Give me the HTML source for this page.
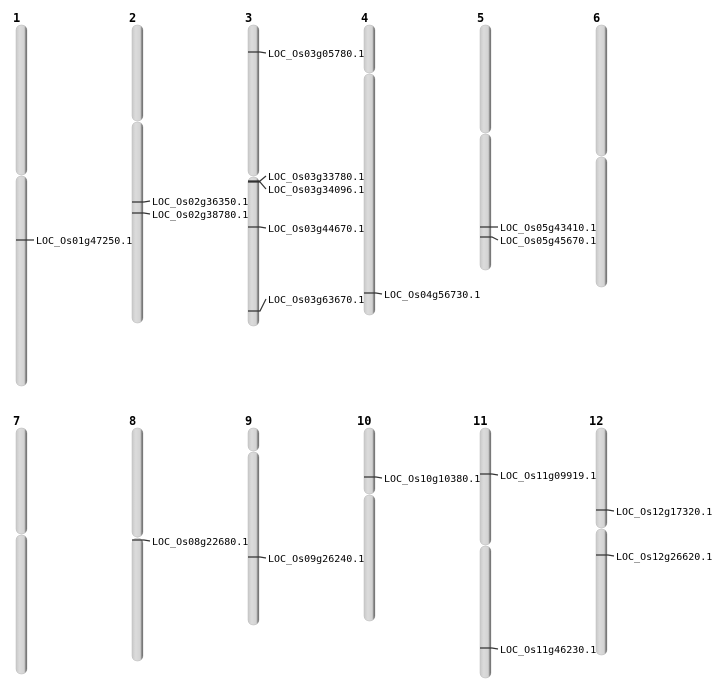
<!DOCTYPE html>
<html><head><meta charset="utf-8"><style>
html,body{margin:0;padding:0;background:#fff}
svg{display:block}
text{font-family:"DejaVu Sans Mono","Liberation Mono",monospace;font-size:10px;fill:#000}
.n{font-weight:bold;font-size:12px}
.c{fill:url(#g);stroke:#bbb;stroke-width:0.5}
.m{stroke:#333;stroke-width:1.2;fill:none}
</style></head><body>
<svg width="712" height="700" viewBox="0 0 712 700" xmlns="http://www.w3.org/2000/svg">
<defs><linearGradient id="g" x1="0" x2="1" y1="0" y2="0">
<stop offset="0" stop-color="#c9c9c9"/><stop offset="0.35" stop-color="#dcdcdc"/><stop offset="0.75" stop-color="#d2d2d2"/><stop offset="0.85" stop-color="#9a9a9a"/><stop offset="1" stop-color="#444"/></linearGradient></defs>
<g class="n">
<text class="n" x="13" y="22">1</text><text class="n" x="129" y="22">2</text><text class="n" x="245" y="22">3</text><text class="n" x="361" y="22">4</text><text class="n" x="477" y="22">5</text><text class="n" x="593" y="22">6</text>
<text class="n" x="13" y="425">7</text><text class="n" x="129" y="425">8</text><text class="n" x="245" y="425">9</text><text class="n" x="357" y="425">10</text><text class="n" x="473" y="425">11</text><text class="n" x="589" y="425">12</text>
</g>
<!-- chromosomes -->
<rect class="c" x="16" y="25" width="11" height="150" rx="5"/><rect class="c" x="16" y="176" width="11" height="210" rx="5"/>
<rect class="c" x="132" y="25" width="11" height="96" rx="5"/><rect class="c" x="132" y="122" width="11" height="201" rx="5"/>
<rect class="c" x="248" y="25" width="11" height="151" rx="5"/><rect class="c" x="248" y="177" width="11" height="149" rx="5"/>
<rect class="c" x="364" y="25" width="11" height="48" rx="5"/><rect class="c" x="364" y="74" width="11" height="241" rx="5"/>
<rect class="c" x="480" y="25" width="11" height="108" rx="5"/><rect class="c" x="480" y="134" width="11" height="136" rx="5"/>
<rect class="c" x="596" y="25" width="11" height="131" rx="5"/><rect class="c" x="596" y="157" width="11" height="130" rx="5"/>
<rect class="c" x="16" y="428" width="11" height="106" rx="5"/><rect class="c" x="16" y="535" width="11" height="139" rx="5"/>
<rect class="c" x="132" y="428" width="11" height="109" rx="5"/><rect class="c" x="132" y="538" width="11" height="123" rx="5"/>
<rect class="c" x="248" y="428" width="11" height="23" rx="5"/><rect class="c" x="248" y="452" width="11" height="173" rx="5"/>
<rect class="c" x="364" y="428" width="11" height="66" rx="5"/><rect class="c" x="364" y="495" width="11" height="126" rx="5"/>
<rect class="c" x="480" y="428" width="11" height="117" rx="5"/><rect class="c" x="480" y="546" width="11" height="132" rx="5"/>
<rect class="c" x="596" y="428" width="11" height="100" rx="5"/><rect class="c" x="596" y="529" width="11" height="126" rx="5"/>
<!-- markers -->
<path class="m" d="M16 240H28L34 240"/><text x="36" y="244">LOC_Os01g47250.1</text>
<path class="m" d="M132 202H144L150 201"/><text x="152" y="205">LOC_Os02g36350.1</text>
<path class="m" d="M132 213H144L150 214"/><text x="152" y="218">LOC_Os02g38780.1</text>
<path class="m" d="M248 52H260L266 53"/><text x="268" y="57">LOC_Os03g05780.1</text>
<path class="m" d="M248 181H260L266 176"/><text x="268" y="180">LOC_Os03g33780.1</text>
<path class="m" d="M248 182H260L266 189"/><text x="268" y="193">LOC_Os03g34096.1</text>
<path class="m" d="M248 227H260L266 228"/><text x="268" y="232">LOC_Os03g44670.1</text>
<path class="m" d="M248 311H260L266 299"/><text x="268" y="303">LOC_Os03g63670.1</text>
<path class="m" d="M364 293H376L382 294"/><text x="384" y="298">LOC_Os04g56730.1</text>
<path class="m" d="M480 227H492L498 227"/><text x="500" y="231">LOC_Os05g43410.1</text>
<path class="m" d="M480 237H492L498 240"/><text x="500" y="244">LOC_Os05g45670.1</text>
<path class="m" d="M132 540H144L150 541"/><text x="152" y="545">LOC_Os08g22680.1</text>
<path class="m" d="M248 557H260L266 558"/><text x="268" y="562">LOC_Os09g26240.1</text>
<path class="m" d="M364 477H376L382 478"/><text x="384" y="482">LOC_Os10g10380.1</text>
<path class="m" d="M480 474H492L498 475"/><text x="500" y="479">LOC_Os11g09919.1</text>
<path class="m" d="M480 648H492L498 649"/><text x="500" y="653">LOC_Os11g46230.1</text>
<path class="m" d="M596 510H608L614 511"/><text x="616" y="515">LOC_Os12g17320.1</text>
<path class="m" d="M596 555H608L614 556"/><text x="616" y="560">LOC_Os12g26620.1</text>
</svg>
</body></html>
